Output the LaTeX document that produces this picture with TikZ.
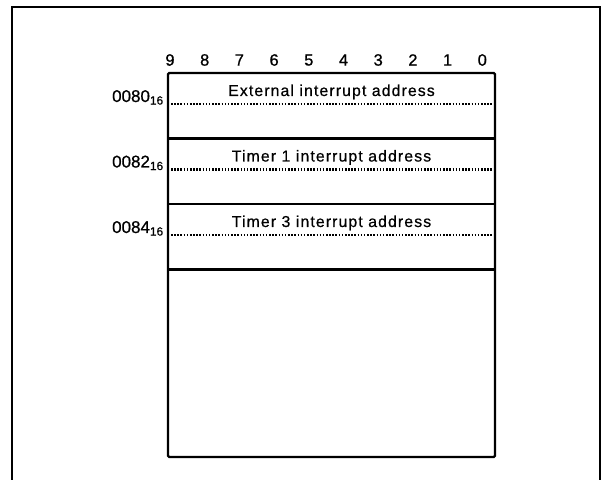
\documentclass[tikz,border=0pt]{standalone}
\usepackage{fontspec}
\setmainfont{Liberation Sans}
\newfontfamily\scanfont[LetterSpace=7,FakeBold=0.6]{Liberation Sans}
\newfontfamily\numfont[FakeBold=0.8]{Liberation Sans}
\usetikzlibrary{positioning}
\begin{document}
\begin{tikzpicture}[x=0.03cm,y=-0.03cm,
    frameline/.style={line width=1.4pt},
    boxline/.style={line width=2pt},
    dotline/.style={line width=2pt,dash pattern=on 1.3pt off 1.4pt},
    bitno/.style={font=\numfont\fontsize{14}{16}\selectfont},
    rowtext/.style={font=\scanfont\fontsize{13.5}{16}\selectfont,anchor=base},
    addr/.style={font=\numfont\fontsize{14.5}{16}\selectfont,anchor=base east,inner sep=0pt}]
  \useasboundingbox (0,0) rectangle (606,480);
  \draw[frameline] (12,482) -- (12,7) -- (600,7) -- (600,482);
  \draw[boxline,rounded corners=1pt] (168,73) rectangle (495,457);
  % bit numbers
  \foreach \b [count=\k from 0] in {9,8,...,0}
    \node[bitno] (bit\b) at (170+34.7*\k,60) {\b};
  % vector rows
  \foreach \name/\lbl [count=\r from 0] in {External interrupt address/0080,
      Timer 1 interrupt address/0082, Timer 3 interrupt address/0084} {
    \pgfmathsetmacro\top{73+65.5*\r}
    \node[rowtext] (row\r) at (331.5,\top+23) {\name};
    \node[addr] (addr\r) at (164,\top+29) {\lbl\textsubscript{16}};
    \draw[dotline] (171,\top+31) -- (493,\top+31);
    \draw[boxline] (168,\top+65.5) -- (495,\top+65.5);
  }
\end{tikzpicture}
\end{document}
